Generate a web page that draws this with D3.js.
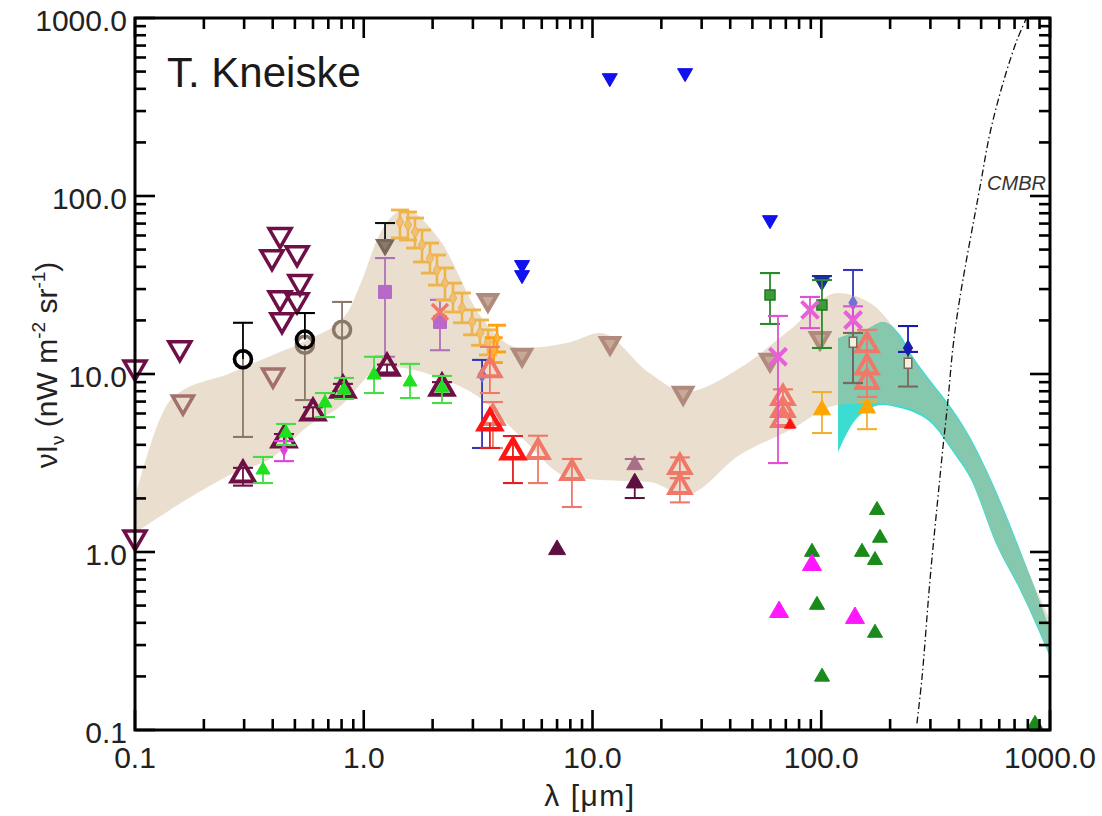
<!DOCTYPE html>
<html>
<head>
<meta charset="utf-8">
<script src="https://cdn.jsdelivr.net/npm/d3@7"></script>
<style>
  body { margin: 0; background: #fff; }
  svg { display: block; }
  text { font-family: "Liberation Sans", Arial, Helvetica, sans-serif; }
</style>
</head>
<body>
<svg id="chart" width="1102" height="816"></svg>
<script>
// ---------------- data ----------------
const xTickValues = [0.1, 1, 10, 100, 1000];
const xTickLabels = ["0.1", "1.0", "10.0", "100.0", "1000.0"];
const yTickValues = [0.1, 1, 10, 100, 1000];
const yTickLabels = ["0.1", "1.0", "10.0", "100.0", "1000.0"];

// EBL envelope (wavelength in micron, lower / upper nW m^-2 sr^-1)
const bandLambda = [0.1, 0.147, 0.26, 0.401, 0.565, 0.845, 0.963, 1.18, 1.51, 2.15, 3.22, 4.82, 7.97, 10.8, 17.8, 25.4, 44, 73, 118, 163, 221, 251.8, 298.8, 376.7, 447, 586.7, 739.3, 1000];
const bandLow    = [1.28, 1.77, 2.71, 3.42, 5.04, 7.14, 8.7, 11.1, 10.8, 9.5, 7.33, 4.48, 2.61, 2.54, 2.47, 2.09, 3.51, 4.84, 6.70, 6.87, 6.61, 6.30, 5.53, 3.76, 2.69, 1.11, 0.63, 0.264];
const bandHigh   = [2.04, 7.43, 10.1, 12.8, 15.5, 22.0, 31.6, 62.0, 83.4, 56.6, 21.4, 14.0, 15.1, 17.0, 10.1, 7.92, 10.8, 17.7, 28.5, 25.1, 16.1, 12.1, 8.98, 6.10, 4.30, 2.08, 1.0, 0.415];

// far-infrared model band
const modelLambda = [118.4, 137.7, 158.5, 186.2, 221, 251.8, 298.8, 376.7, 447, 586.7, 739.3, 1000];
const modelLow    = [3.65, 5.31, 6.28, 6.70, 6.44, 6.12, 5.37, 3.65, 2.61, 1.08, 0.612, 0.257];
const modelHigh   = [15.9, 17.0, 17.9, 19.6, 16.6, 12.5, 9.25, 6.28, 4.43, 2.14, 1.03, 0.365];

// cosmic microwave background
const cmbrLambda = [262, 275.6, 298.8, 320.6, 340.6, 358.2, 376.7, 404.3, 494.3, 546.7, 623.2, 717.5, 790];
const cmbrFlux   = [0.109, 0.196, 0.696, 1.79, 3.89, 7.14, 14.2, 27.1, 112.4, 225.9, 431, 752, 1000];

// measurements: [lambda, value, errLow, errHigh]
const maroonUpperLimits = [[0.1, 10.9], [0.1, 1.21], [0.157, 14.0], [0.4305, 60.4], [0.397, 45.4], [0.511, 47.8], [0.526, 32.9], [0.4305, 26.7], [0.511, 26.0], [0.439, 20.1]];
const rosyUpperLimits = [[0.162, 6.96], [0.401, 9.87]];
const tanUpperLimits = [[3.49, 26.0], [4.92, 12.8], [11.93, 14.9], [24.9, 7.82], [59.7, 12.0], [98.7, 15.9]];
const greyUpperLimit = [[1.239, 53.1, null, 70.5]];
const brownCircles = [[0.2965, 12.1, 4.43, null], [0.553, 14.6, 7.14, null], [0.804, 17.7, 8.0, 25.4]];
const blackCircles = [[0.2965, 12.1, null, 19.4], [0.553, 15.6, null, 22.0]];
const maroonLowerLimits = [[0.2965, 2.71, 2.36, 2.97], [0.448, 4.26, 3.9, 4.6], [0.600, 6.04, 5.6, 6.5], [0.811, 8.13, 7.5, 8.8], [1.264, 10.8, 10.2, 11.3], [2.198, 8.34, 7.7, 9.0]];
const limeCounts = [[0.3627, 2.89, 2.44, 3.42], [0.457, 4.66, 3.99, 5.24], [0.677, 6.87, 5.73, 7.82], [0.820, 8.13, 7.24, 9.5], [1.109, 9.87, 7.82, 12.5], [1.593, 9.02, 7.33, 11.4], [2.198, 8.34, 6.87, 9.75]];
const magentaCounts = [[0.448, 3.74, 3.24, 4.2]];
const orchidPoints = [[1.239, 28.9, 12.5, 44.8], [2.154, 19.6, 13.6, 26.1]];
const goldPoints = [[1.440, 71.4, 58.1, 83.4], [1.561, 68.7, 56.6, 81.3], [1.675, 62.8, 51.0, 75.2], [1.798, 53.1, 42.6, 64.4], [1.948, 44.8, 36.9, 54.4], [2.090, 38.4, 31.6, 46.6], [2.265, 32.4, 26.0, 39.4], [2.456, 26.7, 22.3, 32.4], [2.689, 23.5, 19.4, 28.5], [2.973, 19.6, 16.6, 22.9], [3.223, 17.0, 14.5, 20.1], [3.493, 15.1, 12.8, 17.7]];
const orangePoints = [[3.824, 15.9, 13.3, 18.8], [3.70, 13.6, 11.6, 16.0]];
const slatePoints = [[3.29, 9.87, 3.84, 12.0], [137.7, 25.1, 8.9, 38.4]];
const salmonX = [[2.154, 22.3]];
const salmonLimits = [[3.56, 10.5, 7.82, 14.2], [3.67, 5.66, 3.84, 6.96], [5.78, 3.65, 2.44, 4.5], [8.13, 2.78, 1.79, 3.33], [24.1, 3.01, 2.6, 3.4], [24.1, 2.32, 1.9, 2.6], [68.0, 7.33, 6.0, 8.2], [68.0, 6.28], [68.0, 5.52], [158.5, 14.5, 7.43, 17.7], [158.5, 10.9], [158.5, 9.02]];
const redLimits = [[4.49, 3.65, 2.44, 4.48], [3.56, 5.31, 3.84, null]];
const redDots = [[73.0, 5.17]];
const darkMaroonPoints = [[7.0, 1.03], [15.3, 2.44, 2.01, null]];
const mauvePoints = [[15.3, 3.08, null, 3.33]];
const blueUpperLimits = [[11.9, 460], [25.4, 491], [4.92, 41.0], [4.92, 36.0], [59.7, 73.3]];
const navyUpperLimit = [[100.7, 32.9, null, 35.5]];
const greenSquares = [[59.7, 27.8, 19.1, 36.9], [100.7, 24.4, 14.0, 33.7]];
const pinkCrosses = [[89.3, 22.9, 18.1, 27.1], [64.7, 12.5, 3.16, 21.2], [137.7, 20.1, 17.0, 24.0]];
const orangeLimits = [[100.7, 6.28, 4.66, 7.92], [158.5, 6.44, 4.9, 7.0]];
const paleBoxes = [[137.7, 15.1, 8.9, 17.0], [239.5, 11.5, 8.5, 13.3]];
const navyDiamonds = [[239.5, 14.0, 13.3, 18.6]];
const greenFluctuations = [[175.3, 1.72], [180.6, 1.20], [150.7, 1.0], [171.8, 0.90], [91.1, 1.0], [95.8, 0.504], [171.8, 0.351], [100.8, 0.199], [860, 0.108]];
const magentaFluctuations = [[91.1, 0.845], [65.4, 0.46], [140.4, 0.426]];

// ---------------- marker styles ----------------
const seriesStyles = [
  { data: maroonUpperLimits, shape: "triDown", color: "#6e0f46", size: 22, fill: "none", sw: 3.5 },
  { data: rosyUpperLimits, shape: "triDown", color: "#a3716c", size: 21, fill: "none", sw: 3.5 },
  { data: tanUpperLimits, shape: "triDown", color: "#b08a7c", size: 18, fill: "#c8a898", sw: 4 },
  { data: greyUpperLimit, shape: "triDown", color: "#786858", size: 15, fill: "#8a7a6a", sw: 3, err: "#111" },
  { data: brownCircles, shape: "circle", color: "#8a7868", size: 17, fill: "none", sw: 3.5, err: "#8a7868" },
  { data: blackCircles, shape: "circle", color: "#000", size: 17, fill: "none", sw: 3.5, err: "#000" },
  { data: orchidPoints, shape: "square", color: "#b868c8", size: 13, fill: "#b868c8", sw: 1, err: "#b070b8" },
  { data: maroonLowerLimits, shape: "tri", color: "#6e0f46", size: 23, fill: "none", sw: 4, err: "#6e0f46", cap: 20 },
  { data: magentaCounts, shape: "diamond", color: "#e040e0", size: 8, fill: "#e040e0", sw: 1, err: "#e040e0" },
  { data: limeCounts, shape: "tri", color: "#1ee01e", size: 14, fill: "#1ee01e", sw: 1, err: "#44dd44" },
  { data: goldPoints, shape: "diamond", color: "#eeb050", size: 9, fill: "#f0c070", sw: 1, err: "#efb448", cap: 18, ew: 2.6 },
  { data: orangePoints, shape: "diamond", color: "#ffa010", size: 8, fill: "#ffb040", sw: 1, err: "#ffa010", cap: 18, ew: 2.6 },
  { data: slatePoints, shape: "diamond", color: "#7070d8", size: 10, fill: "#7070d8", sw: 1, err: "#3434b8" },
  { data: salmonX, shape: "x", color: "#f07868", size: 16, fill: "none", sw: 3.5 },
  { data: salmonLimits, shape: "tri", color: "#f07868", size: 21, fill: "none", sw: 4, err: "#f07868" },
  { data: redLimits, shape: "tri", color: "#ff1414", size: 22, fill: "none", sw: 4.5, err: "#e02020" },
  { data: redDots, shape: "tri", color: "#ff1010", size: 11, fill: "#ff1010", sw: 1 },
  { data: darkMaroonPoints, shape: "tri", color: "#5c1040", size: 17, fill: "#5c1040", sw: 1, err: "#5c1040" },
  { data: mauvePoints, shape: "tri", color: "#a87088", size: 16, fill: "#a87088", sw: 1, err: "#a87088" },
  { data: blueUpperLimits, shape: "triDown", color: "#1010f0", size: 15, fill: "#1010f0", sw: 1 },
  { data: navyUpperLimit, shape: "triDown", color: "#1a2a9a", size: 15, fill: "#1a2a9a", sw: 1, err: "#1a2a9a" },
  { data: greenSquares, shape: "square", color: "#1e7a1e", size: 10, fill: "#3c9a3c", sw: 1.5, err: "#2a8a2a" },
  { data: pinkCrosses, shape: "x", color: "#e860d8", size: 17, fill: "none", sw: 4, err: "#e050d0" },
  { data: orangeLimits, shape: "tri", color: "#ffa500", size: 17, fill: "#ffa500", sw: 1, err: "#f0b030" },
  { data: paleBoxes, shape: "box", color: "#7a6a5a", size: 10, fill: "#f6efe2", sw: 1.5, err: "#7a6a5a" },
  { data: navyDiamonds, shape: "diamond", color: "#1a1ab0", size: 11, fill: "#1a1ab0", sw: 1, err: "#1a1ab0" },
  { data: greenFluctuations, shape: "tri", color: "#1a8a1a", size: 15, fill: "#1a8a1a", sw: 1 },
  { data: magentaFluctuations, shape: "tri", color: "#ff18ff", size: 19, fill: "#ff18ff", sw: 1 }
];

// ---------------- layout ----------------
const X0 = 135, X1 = 1050, YB = 730, YT = 18;
const x = d3.scaleLog().domain([0.1, 1000]).range([X0, X1]);
const y = d3.scaleLog().domain([0.1, 1000]).range([YB, YT]);
const svg = d3.select("#chart");
const defs = svg.append("defs");

defs.append("clipPath").attr("id", "plotClip")
  .append("rect").attr("x", X0).attr("y", YT).attr("width", X1 - X0).attr("height", YB - YT);

const area = d3.area()
  .x(d => x(d[0])).y0(d => y(d[1])).y1(d => y(d[2]))
  .curve(d3.curveMonotoneX);

const band = bandLambda.map((l, i) => [l, bandLow[i], bandHigh[i]]);
const model = modelLambda.map((l, i) => [l, modelLow[i], modelHigh[i]]);

defs.append("clipPath").attr("id", "modelClip")
  .append("path").attr("d", area(model));

const plot = svg.append("g").attr("clip-path", "url(#plotClip)");
plot.append("path").attr("d", area(band)).attr("fill", "#eadfcf");
plot.append("path").attr("d", area(model)).attr("fill", "#3cdcd2");
plot.append("g").attr("clip-path", "url(#modelClip)")
  .append("path").attr("d", area(band)).attr("fill", "#86c8ae");

// CMBR curve
const cmbr = cmbrLambda.map((l, i) => [l, cmbrFlux[i]]);
plot.append("path")
  .attr("d", d3.line().x(d => x(d[0])).y(d => y(d[1])).curve(d3.curveCatmullRom)(cmbr))
  .attr("fill", "none").attr("stroke", "#111").attr("stroke-width", 1.3)
  .attr("stroke-dasharray", "7,3,1.5,3");

svg.append("text").attr("x", 1046).attr("y", 190)
  .attr("text-anchor", "end").attr("font-size", 20).attr("font-style", "italic")
  .attr("fill", "#333").text("CMBR");

// ---------------- markers ----------------
function markerPath(shape, s) {
  switch (shape) {
    case "tri":
    case "triDown":
      return d3.symbol(d3.symbolTriangle, Math.sqrt(3) / 4 * s * s)();
    case "circle":
      return d3.symbol(d3.symbolCircle, Math.PI * (s / 2) * (s / 2))();
    case "square":
      return d3.symbol(d3.symbolSquare, s * s)();
    case "diamond":
      return d3.symbol(d3.symbolDiamond, s * s * 0.6)();
    case "x": {
      const r = s / 2;
      return `M${-r},${-r}L${r},${r}M${-r},${r}L${r},${-r}`;
    }
    case "box": {
      const w = s * 0.75, h = s;
      return `M${-w / 2},${-h / 2}h${w}v${h}h${-w}Z`;
    }
  }
}

const marks = svg.append("g");
seriesStyles.forEach(st => {
  const g = marks.append("g");
  const errCol = st.err || st.color;
  const cap = st.cap || 20;
  const ew = st.ew || 1.8;
  st.data.forEach(d => {
    const [l, v, lo, hi] = d;
    const px = x(l), py = y(v);
    const top = (hi != null) ? y(hi) : py;
    const bot = (lo != null) ? y(lo) : py;
    if (hi != null || lo != null) {
      g.append("line").attr("x1", px).attr("x2", px).attr("y1", top).attr("y2", bot)
        .attr("stroke", errCol).attr("stroke-width", ew);
      if (hi != null) g.append("line").attr("x1", px - cap / 2).attr("x2", px + cap / 2)
        .attr("y1", top).attr("y2", top).attr("stroke", errCol).attr("stroke-width", ew + 0.3);
      if (lo != null) g.append("line").attr("x1", px - cap / 2).attr("x2", px + cap / 2)
        .attr("y1", bot).attr("y2", bot).attr("stroke", errCol).attr("stroke-width", ew + 0.3);
    }
  });
  st.data.forEach(d => {
    const px = x(d[0]), py = y(d[1]);
    g.append("path")
      .attr("d", markerPath(st.shape, st.size))
      .attr("transform", `translate(${px},${py})` + (st.shape === "triDown" ? " rotate(180)" : ""))
      .attr("fill", st.fill === "none" ? (st.shape === "x" ? "none" : "#fff") : st.fill)
      .attr("fill-opacity", st.fill === "none" ? 0 : 1)
      .attr("stroke", st.color)
      .attr("stroke-width", st.sw)
      .attr("stroke-linejoin", "miter");
  });
});

// ---------------- axes ----------------
const axes = svg.append("g");
const tickW = 2.6, majorLen = 20, minorLen = 11;
const isMajor = v => Math.abs(Math.log10(v) - Math.round(Math.log10(v))) < 1e-6;

x.ticks().forEach(v => {
  const px = x(v), len = isMajor(v) ? majorLen : minorLen;
  axes.append("line").attr("x1", px).attr("x2", px).attr("y1", YB).attr("y2", YB - len)
    .attr("stroke", "#000").attr("stroke-width", tickW);
  axes.append("line").attr("x1", px).attr("x2", px).attr("y1", YT).attr("y2", YT + len)
    .attr("stroke", "#000").attr("stroke-width", tickW);
});
y.ticks().forEach(v => {
  const py = y(v), len = isMajor(v) ? majorLen : minorLen;
  axes.append("line").attr("x1", X0).attr("x2", X0 + len).attr("y1", py).attr("y2", py)
    .attr("stroke", "#000").attr("stroke-width", tickW);
  axes.append("line").attr("x1", X1).attr("x2", X1 - len).attr("y1", py).attr("y2", py)
    .attr("stroke", "#000").attr("stroke-width", tickW);
});
axes.append("rect").attr("x", X0).attr("y", YT).attr("width", X1 - X0).attr("height", YB - YT)
  .attr("fill", "none").attr("stroke", "#000").attr("stroke-width", 3);

xTickValues.forEach((v, i) => {
  axes.append("text").attr("x", x(v)).attr("y", 768).attr("text-anchor", "middle")
    .attr("font-size", 30).attr("fill", "#222").text(xTickLabels[i]);
});
yTickValues.forEach((v, i) => {
  axes.append("text").attr("x", 127).attr("y", y(v) + 13).attr("text-anchor", "end")
    .attr("font-size", 30).attr("fill", "#222").text(yTickLabels[i]);
});

// axis titles
svg.append("text").attr("x", 590).attr("y", 806).attr("text-anchor", "middle")
  .attr("font-size", 30).attr("fill", "#222").attr("letter-spacing", 1.5).text("λ [μm]");

const yt = svg.append("text").attr("transform", "translate(57,365) rotate(-90)")
  .attr("text-anchor", "middle").attr("font-size", 30).attr("fill", "#222");
yt.append("tspan").text("νI");
yt.append("tspan").attr("font-size", 19).attr("dy", 7).text("ν");
yt.append("tspan").attr("dy", -7).text(" (nW m");
yt.append("tspan").attr("font-size", 19).attr("dy", -12).text("-2");
yt.append("tspan").attr("dy", 12).text(" sr");
yt.append("tspan").attr("font-size", 19).attr("dy", -12).text("-1");
yt.append("tspan").attr("dy", 12).text(")");

// author tag
svg.append("text").attr("x", 167).attr("y", 87).attr("font-size", 42)
  .attr("fill", "#1a1a1a").text("T. Kneiske");
</script>
</body>
</html>
